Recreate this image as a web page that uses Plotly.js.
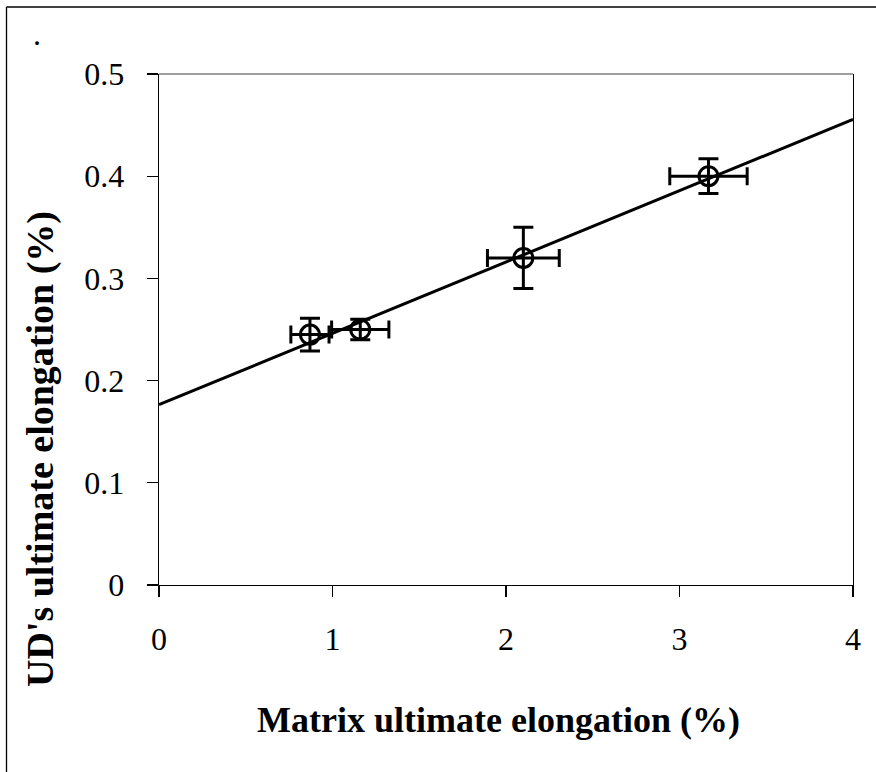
<!DOCTYPE html>
<html>
<head>
<meta charset="utf-8">
<script src="https://cdn.plot.ly/plotly-3.0.1.min.js"></script>
<style>
  html, body { margin: 0; padding: 0; background: #fff; }
  #chart { width: 876px; height: 772px; }
</style>
</head>
<body>
<div id="chart"></div>
<script>
// Matrix vs. unidirectional composite ultimate elongation (%)
const matrixElong    = [0.87, 1.16, 2.10, 3.167];
const matrixElongErr = [0.11, 0.165, 0.207, 0.223];
const udElong        = [0.245, 0.25, 0.32, 0.40];
const udElongErr     = [0.016, 0.01, 0.03, 0.017];

const xTickVals = [0, 1, 2, 3, 4];
const yTickVals = [0, 0.1, 0.2, 0.3, 0.4, 0.5];
const yTickText = ['0', '0.1', '0.2', '0.3', '0.4', '0.5'];

const xTitle = 'Matrix ultimate elongation (%)';
const yTitle = "UD's ultimate elongation (%)";

// Least-squares linear trend line through the measurements
function linearFit(xs, ys) {
  const n = xs.length;
  const mx = xs.reduce((a, b) => a + b, 0) / n;
  const my = ys.reduce((a, b) => a + b, 0) / n;
  let sxy = 0, sxx = 0;
  for (let i = 0; i < n; i++) {
    sxy += (xs[i] - mx) * (ys[i] - my);
    sxx += (xs[i] - mx) * (xs[i] - mx);
  }
  const slope = sxy / sxx;
  return { slope: slope, intercept: my - slope * mx };
}
const fit = linearFit(matrixElong, udElong);
const trendX = [0, 4];
const trendY = trendX.map(x => fit.intercept + fit.slope * x);

const W = 876, H = 772;
const M = { l: 159, r: 23, t: 74, b: 187 };
const pw = W - M.l - M.r, ph = H - M.t - M.b;
// pixel -> paper coordinate helpers for the frame and free labels
const px = v => (v - M.l) / pw;
const py = v => (H - M.b - v) / ph;

const serif = 'Liberation Serif, Times New Roman, serif';
const tickSize = 32;
const xTitleSize = 36;
const yTitleSize = 38;

const traces = [
  {
    x: trendX, y: trendY, type: 'scatter', mode: 'lines',
    line: { color: '#000', width: 3 }, hoverinfo: 'skip', showlegend: false
  },
  {
    x: matrixElong, y: udElong, type: 'scatter', mode: 'markers',
    marker: { symbol: 'circle-open', size: 19, color: '#000', line: { width: 3, color: '#000' } },
    error_x: { type: 'data', array: matrixElongErr, visible: true, color: '#000', thickness: 3, width: 9 },
    error_y: { type: 'data', array: udElongErr, visible: true, color: '#000', thickness: 3, width: 10 },
    showlegend: false
  }
];

const layout = {
  width: W, height: H,
  margin: M,
  paper_bgcolor: '#fff', plot_bgcolor: '#fff',
  font: { family: serif, color: '#000', size: tickSize },
  showlegend: false,
  xaxis: {
    range: [0, 4], tickvals: xTickVals, ticktext: xTickVals.map(String),
    showgrid: false, zeroline: false,
    showline: true, linecolor: '#000', linewidth: 1.3,
    ticks: 'outside', ticklen: 11, tickwidth: 1.3, tickcolor: '#000',
    ticklabelstandoff: 14,
    tickfont: { family: serif, size: tickSize, color: '#000' }
  },
  yaxis: {
    range: [0, 0.5], tickvals: yTickVals, ticktext: yTickText,
    showgrid: false, zeroline: false,
    showline: true, mirror: true, linecolor: '#000', linewidth: 1.3,
    ticks: 'outside', ticklen: 11, tickwidth: 1.3, tickcolor: '#000',
    ticklabelstandoff: 16,
    tickfont: { family: serif, size: tickSize, color: '#000' }
  },
  shapes: [
    // grey frame line along the top of the plot area
    { type: 'line', xref: 'paper', yref: 'paper', x0: 0, x1: 1, y0: 1, y1: 1,
      line: { color: '#808080', width: 1.5 } },
    // outer chart border (left and top edges)
    { type: 'line', xref: 'paper', yref: 'paper', x0: px(6.5), x1: px(6.5), y0: py(7), y1: py(H + 5),
      line: { color: '#000', width: 1.3 } },
    { type: 'line', xref: 'paper', yref: 'paper', x0: px(6.5), x1: px(W + 5), y0: py(7), y1: py(7),
      line: { color: '#000', width: 1.3 } }
  ],
  annotations: [
    { text: '<b>' + xTitle + '</b>', xref: 'paper', yref: 'paper',
      x: px(498), y: py(720), showarrow: false, xanchor: 'center', yanchor: 'middle',
      font: { family: serif, size: xTitleSize, color: '#000' } },
    { text: '<b>' + yTitle + '</b>', xref: 'paper', yref: 'paper', textangle: -90,
      x: px(40), y: py(449), showarrow: false, xanchor: 'center', yanchor: 'middle',
      font: { family: serif, size: yTitleSize, color: '#000' } },
    { text: '.', xref: 'paper', yref: 'paper',
      x: px(37), y: py(34), showarrow: false, xanchor: 'center', yanchor: 'middle',
      font: { family: serif, size: tickSize, color: '#000' } }
  ]
};

Plotly.newPlot('chart', traces, layout, { displayModeBar: false, staticPlot: true });
</script>
</body>
</html>
